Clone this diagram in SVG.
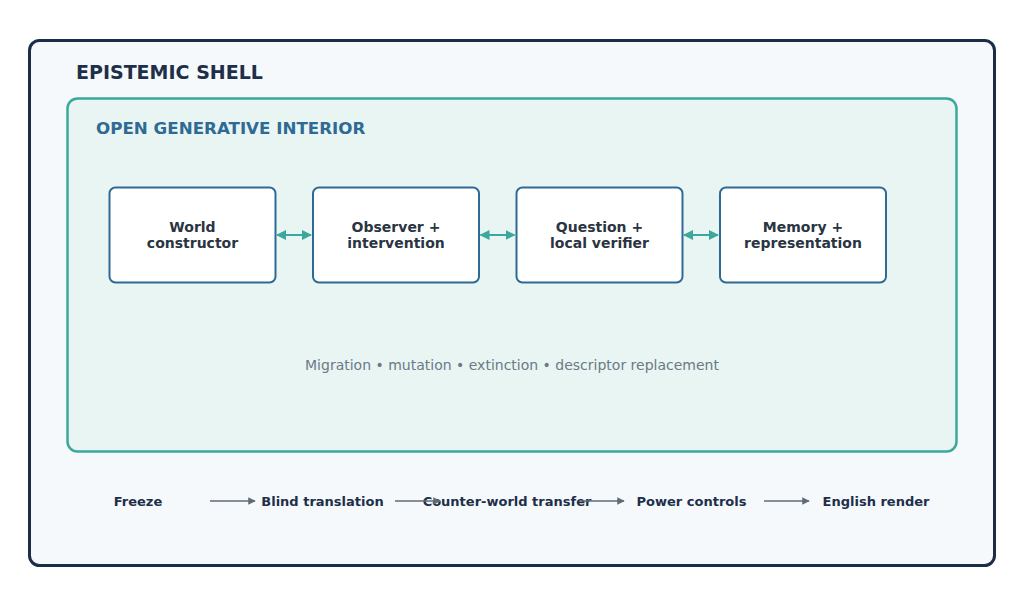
<svg xmlns="http://www.w3.org/2000/svg" width="1024" height="597" viewBox="0 0 1024 597">
<style>
text{font-family:"DejaVu Sans","Liberation Sans",sans-serif}
.node rect{fill:#ffffff;stroke:#2f6a94;stroke-width:2}
.node text{font-size:14px;font-weight:bold;fill:#2a3442;text-anchor:middle}
.step{font-size:13px;font-weight:bold;fill:#1e2f4a;text-anchor:middle}
.link{stroke:#3aa89c;stroke-width:2;fill:none;marker-start:url(#ta);marker-end:url(#ta)}
.flow{stroke:#5f6b7a;stroke-width:1.5;fill:none;marker-end:url(#ga)}
</style>
<defs>
<marker id="ta" viewBox="0 0 10 10" refX="9" refY="5" markerWidth="5" markerHeight="5" orient="auto-start-reverse"><path d="M0,0 L10,5 L0,10 z" fill="#3aa89c"/></marker>
<marker id="ga" viewBox="0 0 10 10" refX="9" refY="5" markerWidth="5" markerHeight="5" orient="auto"><path d="M0,0 L10,5 L0,10 z" fill="#5f6b7a"/></marker>
</defs>
<rect width="1024" height="597" fill="#ffffff"/>
<g id="shell">
<rect x="29.5" y="40.5" width="965" height="525" rx="10" fill="#f5f9fc" stroke="#1a2e4a" stroke-width="3"/>
<text x="76" y="79" font-size="19" font-weight="bold" fill="#1e2f4a">EPISTEMIC SHELL</text>
</g>
<g id="interior">
<rect x="67.5" y="98.5" width="889" height="353" rx="10" fill="#e8f5f3" stroke="#3aa89c" stroke-width="2.5"/>
<text x="96" y="134" font-size="16.7" font-weight="bold" fill="#2f6a94">OPEN GENERATIVE INTERIOR</text>
<text x="512" y="370" font-size="14" fill="#6b7a86" text-anchor="middle">Migration • mutation • extinction • descriptor replacement</text>
</g>
<g id="world" class="node"><rect x="109.5" y="187.5" width="166" height="95" rx="6"/><text x="192.5" y="232">World</text><text x="192.5" y="248">constructor</text></g>
<g id="observer" class="node"><rect x="313" y="187.5" width="166" height="95" rx="6"/><text x="396" y="232">Observer +</text><text x="396" y="248">intervention</text></g>
<g id="question" class="node"><rect x="516.5" y="187.5" width="166" height="95" rx="6"/><text x="599.5" y="232">Question +</text><text x="599.5" y="248">local verifier</text></g>
<g id="memory" class="node"><rect x="720" y="187.5" width="166" height="95" rx="6"/><text x="803" y="232">Memory +</text><text x="803" y="248">representation</text></g>
<g id="steps">
<text class="step" x="138" y="506">Freeze</text>
<text class="step" x="322.5" y="506">Blind translation</text>
<text class="step" x="507" y="506">Counter-world transfer</text>
<text class="step" x="691.5" y="506">Power controls</text>
<text class="step" x="876" y="506">English render</text>
</g>
<g id="connectors">
<line class="link" x1="277" y1="235" x2="311" y2="235"/>
<line class="link" x1="480.5" y1="235" x2="514.5" y2="235"/>
<line class="link" x1="684" y1="235" x2="718" y2="235"/>
<line class="flow" x1="210" y1="501" x2="255" y2="501"/>
<line class="flow" x1="395" y1="501" x2="440" y2="501"/>
<line class="flow" x1="579" y1="501" x2="624" y2="501"/>
<line class="flow" x1="764" y1="501" x2="809" y2="501"/>
</g>
</svg>
